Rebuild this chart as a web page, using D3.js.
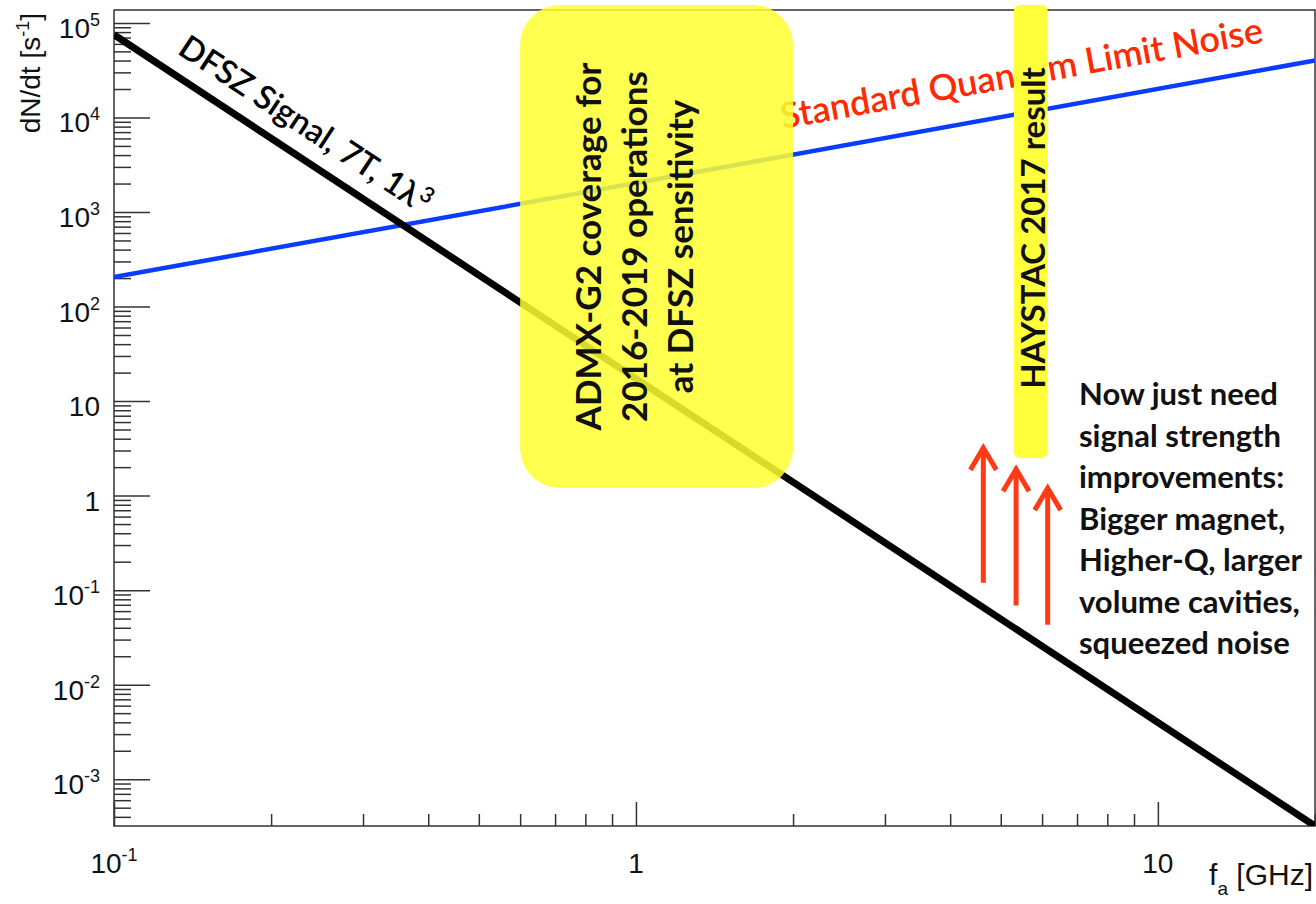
<!DOCTYPE html>
<html>
<head>
<meta charset="utf-8">
<script src="https://cdn.jsdelivr.net/npm/d3@7"></script>
<style>
  body { margin: 0; background: #fff; }
  svg { display: block; }
  .lbl { font-family: "Liberation Sans", Arial, sans-serif; fill: #111; }
  .note { font-family: Lato, "Open Sans", sans-serif; }
</style>
</head>
<body>
<svg id="svg" width="1316" height="904"></svg>
<script>
// curves (two end points each, straight on log-log axes)
const freqGHz = [0.1, 20];
const dfszRate = [7.5e4, 3.2e-4];
const sqlRate = [205, 4.0e4];

// shaded regions
const admxFreq = [0.6, 2.0];
const admxRate = [1.2, 1.55e5];
const haystacFreq = [5.3, 6.15];
const haystacRate = [2.5, 1.55e5];

// red arrows
const arrowFreq = [4.63, 5.35, 6.15];
const arrowFrom = [0.12, 0.069, 0.043];
const arrowTo = [3.2, 1.9, 1.2];

// tick labels
const yTicks = [1e-3, 1e-2, 1e-1, 1, 10, 1e2, 1e3, 1e4, 1e5];
const yTickBase = ["10", "10", "10", "1", "10", "10", "10", "10", "10"];
const yTickExp = ["-3", "-2", "-1", "", "", "2", "3", "4", "5"];
const xTicks = [0.1, 1, 10];
const xTickBase = ["10", "1", "10"];
const xTickExp = ["-1", "", ""];

const admxLines = ["ADMX-G2 coverage for", "2016-2019 operations", "at DFSZ sensitivity"];
const noteLines = ["Now just need", "signal strength", "improvements:", "Bigger magnet,",
                   "Higher-Q, larger", "volume cavities,", "squeezed noise"];

const svgDom = document.getElementById("svg");
var margin = {top: 10, right: 1, bottom: 78, left: 114};
var width = 1316 - margin.left - margin.right;
var height = 904 - margin.top - margin.bottom;

const svg = d3.select("#svg");
const g = svg.append("g")
  .attr("transform", "translate(" + margin.left + "," + margin.top + ")");

var x = d3.scaleLog().domain([0.1, 20]).range([0, width]);
var y = d3.scaleLog().domain([3.2e-4, 1.37e5]).range([height, 0]);

svg.append("defs").append("clipPath").attr("id", "plot-clip")
  .append("rect").attr("width", width).attr("height", height);

// frame
g.append("rect")
  .attr("width", width).attr("height", height)
  .attr("fill", "none").attr("stroke", "#333").attr("stroke-width", 1.5);

// ticks (ROOT style, pointing inside)
let yMinor = y.ticks().filter(v => !yTicks.some(t => Math.abs(t - v) / t < 1e-6));
let xMinor = x.ticks().filter(v => !xTicks.some(t => Math.abs(t - v) / t < 1e-6));

function styleAxis(sel) {
  sel.select(".domain").remove();
  sel.selectAll("line").attr("stroke", "#333").attr("stroke-width", 1.5);
}

g.append("g").call(d3.axisLeft(y).tickValues(yTicks).tickSize(-36).tickFormat("")).call(styleAxis);
g.append("g").call(d3.axisLeft(y).tickValues(yMinor).tickSize(-17).tickFormat("")).call(styleAxis);
g.append("g").attr("transform", "translate(0," + height + ")")
  .call(d3.axisBottom(x).tickValues(xTicks).tickSize(-24).tickFormat("")).call(styleAxis);
g.append("g").attr("transform", "translate(0," + height + ")")
  .call(d3.axisBottom(x).tickValues(xMinor).tickSize(-12).tickFormat("")).call(styleAxis);

// tick labels with superscripts
let yl = g.selectAll(".ylab").data(yTicks).enter().append("text")
  .attr("class", "lbl")
  .attr("x", -14)
  .attr("y", d => y(d) + 15)
  .attr("text-anchor", "end")
  .style("font-size", "28px");
yl.append("tspan").text((d, i) => yTickBase[i]);
yl.append("tspan").attr("dy", -12).style("font-size", "18px").text((d, i) => yTickExp[i]);

let xl = g.selectAll(".xlab").data(xTicks).enter().append("text")
  .attr("class", "lbl")
  .attr("x", d => x(d))
  .attr("y", height + 47)
  .attr("text-anchor", "middle")
  .style("font-size", "28px");
xl.append("tspan").text((d, i) => xTickBase[i]);
xl.append("tspan").attr("dy", -12).style("font-size", "18px").text((d, i) => xTickExp[i]);

// axis titles
let yt = svg.append("text").attr("class", "lbl")
  .attr("transform", "translate(40,13) rotate(-90)")
  .attr("text-anchor", "end")
  .style("font-size", "28px");
yt.append("tspan").text("dN/dt [s");
yt.append("tspan").attr("dy", -11).style("font-size", "18px").text("-1");
yt.append("tspan").attr("dy", 11).text("]");

let xt = svg.append("text").attr("class", "lbl")
  .attr("x", 1313).attr("y", 885)
  .attr("text-anchor", "end")
  .style("font-size", "30px");
xt.append("tspan").text("f");
xt.append("tspan").attr("dy", 10).style("font-size", "19px").text("a");
xt.append("tspan").attr("dy", -10).text(" [GHz]");

// curves
var line = d3.line().x(d => x(d[0])).y(d => y(d[1]));
const plot = g.append("g").attr("clip-path", "url(#plot-clip)");

plot.append("path")
  .datum(d3.zip(freqGHz, sqlRate))
  .attr("d", line)
  .attr("fill", "none").attr("stroke", "#0a3cff").attr("stroke-width", 4.5);

plot.append("path")
  .datum(d3.zip(freqGHz, dfszRate))
  .attr("d", line)
  .attr("fill", "none").attr("stroke", "#000").attr("stroke-width", 7);

// point and angle on a straight log-log curve
function along(rates, f) {
  let x0 = x(freqGHz[0]), x1 = x(freqGHz[1]), y0 = y(rates[0]), y1 = y(rates[1]);
  let t = (x(f) - x0) / (x1 - x0);
  return [x(f), y0 + t * (y1 - y0), Math.atan2(y1 - y0, x1 - x0) * 180 / Math.PI];
}

let p = along(sqlRate, 5.65);
g.append("text").attr("class", "note")
  .attr("transform", "translate(" + p[0] + "," + p[1] + ") rotate(" + p[2] + ")")
  .attr("y", -27)
  .attr("text-anchor", "middle")
  .style("font-size", "36px").style("font-weight", 600)
  .attr("fill", "#ff2a00")
  .text("Standard Quantum Limit Noise");

p = along(dfszRate, 0.216);
let dl = g.append("text").attr("class", "note")
  .attr("transform", "translate(" + p[0] + "," + p[1] + ") rotate(" + p[2] + ")")
  .attr("y", -19)
  .attr("text-anchor", "middle")
  .style("font-size", "33px").style("font-weight", 600)
  .attr("fill", "#000");
dl.append("tspan").text("DFSZ Signal, 7T, 1λ");
dl.append("tspan").attr("dy", -12).style("font-size", "22px").text("3");

// ADMX box
let ax0 = x(admxFreq[0]), ax1 = x(admxFreq[1]), ay0 = y(admxRate[1]), ay1 = y(admxRate[0]);
g.append("rect")
  .attr("x", ax0).attr("y", ay0)
  .attr("width", ax1 - ax0).attr("height", ay1 - ay0)
  .attr("rx", 40).attr("ry", 40)
  .attr("fill", "#ffff30").attr("opacity", 0.85);

let acy = (ay0 + ay1) / 2;
g.selectAll(".admx").data(admxLines).enter().append("text")
  .attr("class", "note")
  .attr("transform", (d, i) => "translate(" + (ax0 + 81 + i * 46) + "," + acy + ") rotate(-90)")
  .attr("text-anchor", "middle")
  .style("font-size", "35px").style("font-weight", "bold")
  .attr("fill", "#111")
  .text(d => d);

// HAYSTAC box
let hx0 = x(haystacFreq[0]), hx1 = x(haystacFreq[1]), hy0 = y(haystacRate[1]), hy1 = y(haystacRate[0]);
g.append("rect")
  .attr("x", hx0).attr("y", hy0)
  .attr("width", hx1 - hx0).attr("height", hy1 - hy0)
  .attr("rx", 6).attr("ry", 6)
  .attr("fill", "#ffff3c");

g.append("text").attr("class", "note")
  .attr("transform", "translate(" + (hx0 + 31) + ",218) rotate(-90)")
  .attr("text-anchor", "middle")
  .style("font-size", "33px").style("font-weight", "bold")
  .attr("fill", "#111")
  .text("HAYSTAC 2017 result");

// arrows
const arrows = g.selectAll(".arrow").data(arrowFreq).enter().append("g")
  .attr("stroke", "#ff3a14").attr("stroke-width", 5).attr("fill", "none");
arrows.append("line")
  .attr("x1", d => x(d)).attr("x2", d => x(d))
  .attr("y1", (d, i) => y(arrowFrom[i])).attr("y2", (d, i) => y(arrowTo[i]) + 2);
arrows.append("polyline")
  .attr("points", (d, i) => {
    let ax = x(d), ay = y(arrowTo[i]);
    return [[ax - 13, ay + 22], [ax, ay], [ax + 13, ay + 22]].map(q => q.join(",")).join(" ");
  });

// note on the right
svg.selectAll(".noteline").data(noteLines).enter().append("text")
  .attr("class", "note")
  .attr("x", 1079)
  .attr("y", (d, i) => 405 + i * 41.5)
  .style("font-size", "31px").style("font-weight", "bold")
  .attr("fill", "#111")
  .text(d => d);
</script>
</body>
</html>
